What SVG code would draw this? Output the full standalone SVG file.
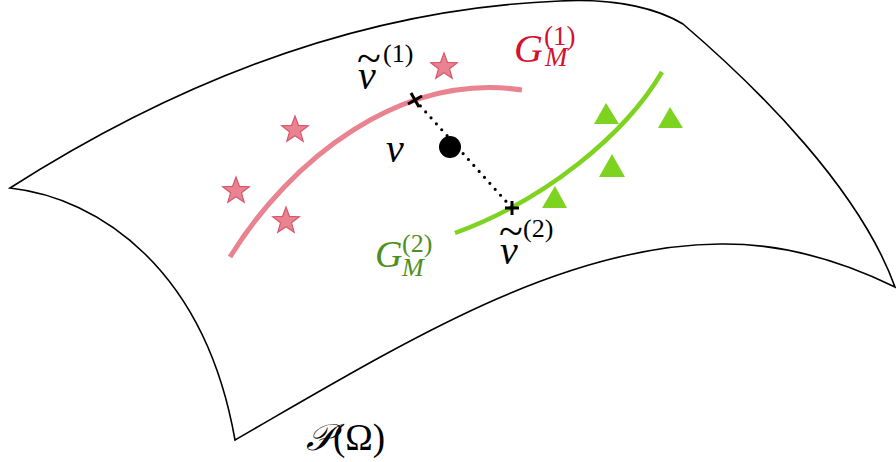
<svg xmlns="http://www.w3.org/2000/svg" width="896" height="462" viewBox="0 0 896 462">
<style>
.outline{fill:none;stroke:#000;stroke-width:1.6;stroke-linejoin:miter}
.pink{fill:none;stroke:#e8838f;stroke-width:5;stroke-linecap:butt}
.green{fill:none;stroke:#7ed321;stroke-width:4.5}
.star{fill:#e8838f;stroke:#d9576c;stroke-width:1.2}
.tri{fill:#7ed321}
.dots{fill:none;stroke:#000;stroke-width:3.2;stroke-linecap:round;stroke-dasharray:0 8}
.cross{stroke:#000;stroke-width:3;fill:none}
.m{font-family:"Liberation Serif","DejaVu Serif",serif;font-style:italic}
.r{font-family:"Liberation Serif","DejaVu Serif",serif;font-style:normal}
</style>
<defs>
<polygon id="star" points="0,-14 3.4,-4.7 13.3,-4.3 5.5,1.8 8.2,11.3 0,5.8 -8.2,11.3 -5.5,1.8 -13.3,-4.3 -3.4,-4.7"/>
</defs>
<g id="manifold">
<path class="outline" d="M10,188 C140,105 330,10 560,1 C620,-2 660,10 683,24 C760,90 860,190 895,287 C850,265 790,243 720,244 C560,245 400,345 235,440 C205,270 100,198 10,188 Z"/>
<text class="m" x="306" y="450" font-size="37">𝒫<tspan class="r">(Ω)</tspan></text>
</g>
<g id="G1">
<path class="pink" d="M230,257 C290,160 400,72 522,90"/>
<use href="#star" class="star" x="444" y="67"/>
<use href="#star" class="star" x="295" y="130"/>
<use href="#star" class="star" x="236" y="191"/>
<use href="#star" class="star" x="286" y="221"/>
<text font-size="40" fill="#d4122f" class="m"><tspan x="514" y="62">G</tspan><tspan class="r" x="544" y="45" font-size="27">(1)</tspan><tspan x="545" y="66" font-size="27">M</tspan></text>
</g>
<g id="G2">
<path class="green" d="M455,233 C545,200 625,135 662,72"/>
<polygon class="tri" points="606,103 619,124 594,124"/>
<polygon class="tri" points="670,107 683,128 658,128"/>
<polygon class="tri" points="612,154 625,177 599,177"/>
<polygon class="tri" points="555,186 567,208 542,208"/>
<text font-size="38" fill="#4f8f1c" class="m"><tspan x="375" y="267">G</tspan><tspan class="r" x="402" y="252" font-size="26">(2)</tspan><tspan x="402" y="276" font-size="26">M</tspan></text>
</g>
<g id="connectors">
<path class="dots" d="M415,100 L512,208"/>
</g>
<g id="nu">
<circle cx="450" cy="147" r="11" fill="#000"/>
<text x="386" y="162" font-size="40" class="m">ν</text>
</g>
<g id="nu1">
<path class="cross" d="M408,104 L422,96 M411,93 L419,107"/>
<text font-size="40" class="m"><tspan class="r" x="357" y="73" font-size="44">~</tspan><tspan x="358" y="89">ν</tspan><tspan class="r" x="383" y="62" font-size="26">(1)</tspan></text>
</g>
<g id="nu2">
<path class="cross" d="M505,208 L519,208 M512,201 L512,215"/>
<text font-size="40" class="m"><tspan class="r" x="499" y="246" font-size="44">~</tspan><tspan x="500" y="264">ν</tspan><tspan class="r" x="523" y="237" font-size="26">(2)</tspan></text>
</g>
</svg>
